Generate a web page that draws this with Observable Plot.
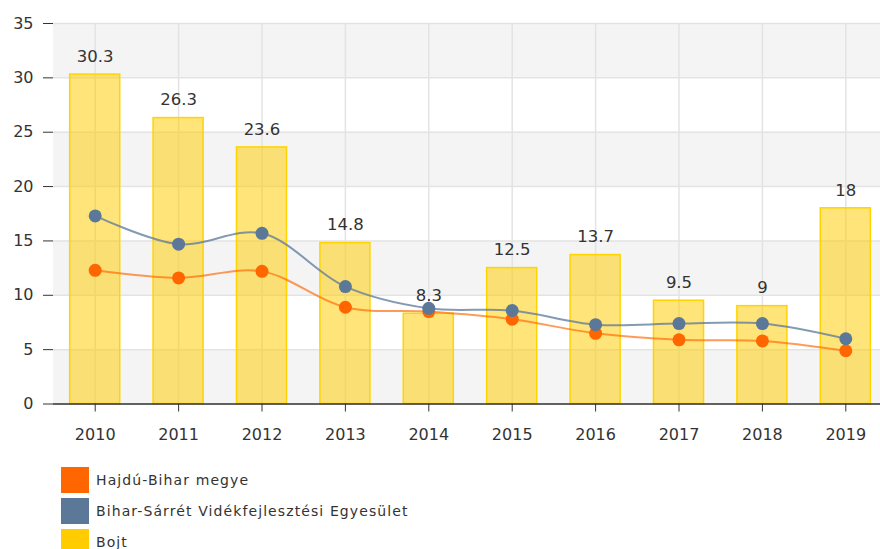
<!DOCTYPE html>
<html>
<head>
<meta charset="utf-8">
<script src="https://cdn.jsdelivr.net/npm/d3@7"></script>
<script src="https://cdn.jsdelivr.net/npm/@observablehq/plot@0.6"></script>
<style>
  html, body { margin: 0; padding: 0; background: #fff; overflow: hidden; }
  #chart svg { display: block; }
  .legend { margin-top: 7px; font-family: "DejaVu Sans", sans-serif; font-size: 14px; color: #333; letter-spacing: 1.1px; }
  .legend .row { display: flex; align-items: center; height: 26px; margin-bottom: 5px; }
  .legend .sw { width: 28px; height: 26px; margin-left: 61px; margin-right: 7px; }
</style>
</head>
<body>
<div id="chart"></div>
<script>
const years = ["2010","2011","2012","2013","2014","2015","2016","2017","2018","2019"];
const bojt = [30.3, 26.3, 23.6, 14.8, 8.3, 12.5, 13.7, 9.5, 9, 18];
const hajduBihar = [12.3, 11.6, 12.2, 8.9, 8.5, 7.8, 6.5, 5.9, 5.8, 4.9];
const biharSarret = [17.3, 14.7, 15.7, 10.8, 8.8, 8.6, 7.3, 7.4, 7.4, 6.0];
const yTicks = [0, 5, 10, 15, 20, 25, 30, 35];
const seriesNames = ["Hajdú-Bihar megye", "Bihar-Sárrét Vidékfejlesztési Egyesület", "Bojt"];
const seriesColors = ["#ff6600", "#5b7899", "#ffcc00"];

const bars = years.map((y, i) => ({year: y, value: bojt[i]}));
const lineH = years.map((y, i) => ({year: y, value: hajduBihar[i]}));
const lineB = years.map((y, i) => ({year: y, value: biharSarret[i]}));
const bands = [];
for (let i = 0; i < yTicks.length - 1; i += 2) bands.push({lo: yTicks[i], hi: yTicks[i + 1]});

const fmt = v => String(v);

const chart = Plot.plot({
  width: 880,
  height: 460,
  marginLeft: 53,
  marginRight: 0,
  marginTop: 23,
  marginBottom: 56.5,
  style: {fontFamily: "DejaVu Sans, sans-serif", fontSize: "16px", color: "#333", background: "#fff"},
  x: {type: "band", domain: years, range: [53, 887], paddingInner: 0.4, paddingOuter: 0.2, round: false, label: null},
  y: {domain: [0, 35], label: null},
  marks: [
    Plot.rect(bands, {y1: "lo", y2: "hi", fill: "#f4f4f4"}),
    Plot.gridY(yTicks, {stroke: "#e3e3e3", strokeOpacity: 1, strokeWidth: 1.5}),
    Plot.gridX(years, {stroke: "#e3e3e3", strokeOpacity: 1, strokeWidth: 1.5}),
    Plot.barY(bars, {x: "year", y: "value", fill: "#ffcc00", fillOpacity: 0.52, stroke: "#ffd400", strokeWidth: 1.5}),
    Plot.text(bars, {x: "year", y: "value", text: d => fmt(d.value), dy: -18, fontSize: 16.5, fill: "#333"}),
    Plot.line(lineH, {x: "year", y: "value", stroke: "#ff6600", strokeOpacity: 0.65, strokeWidth: 2, curve: "catmull-rom"}),
    Plot.line(lineB, {x: "year", y: "value", stroke: "#5b7899", strokeOpacity: 0.75, strokeWidth: 2, curve: "catmull-rom"}),
    Plot.dot(lineH, {x: "year", y: "value", r: 6.5, fill: "#ff6600", stroke: "none"}),
    Plot.dot(lineB, {x: "year", y: "value", r: 6.5, fill: "#5b7899", stroke: "none"}),
    Plot.axisY(yTicks, {tickSize: 10, tickPadding: 10, stroke: "#333", fill: "#333", fontSize: 16}),
    Plot.axisX(years, {tickSize: 8, tickPadding: 17, stroke: "#333", fill: "#333", fontSize: 16}),
    Plot.ruleX([0], {x: () => null, frameAnchor: "left", y1: 0, y2: 35, stroke: "#333", strokeWidth: 1.5}),
    Plot.ruleY([0], {stroke: "#333", strokeWidth: 1.5})
  ]
});
document.getElementById("chart").appendChild(chart);

const legend = document.createElement("div");
legend.className = "legend";
seriesNames.forEach((name, i) => {
  const row = document.createElement("div");
  row.className = "row";
  const sw = document.createElement("div");
  sw.className = "sw";
  sw.style.background = seriesColors[i];
  const label = document.createElement("span");
  label.textContent = name;
  row.appendChild(sw);
  row.appendChild(label);
  legend.appendChild(row);
});
document.getElementById("chart").appendChild(legend);
</script>
</body>
</html>
